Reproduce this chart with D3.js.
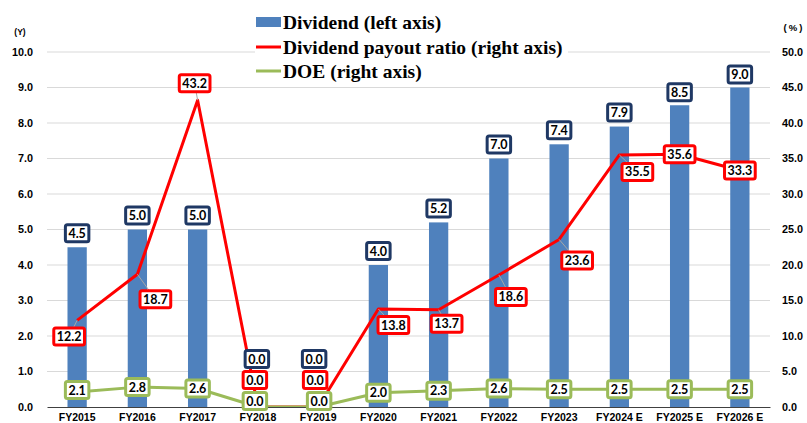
<!DOCTYPE html>
<html><head><meta charset="utf-8">
<script src="https://cdn.jsdelivr.net/npm/d3@7"></script>
<style>
html,body{margin:0;padding:0;background:#fff;}
svg{display:block;}
</style></head>
<body>
<svg id="c" width="807" height="423"></svg>
<script>
// ---- data ----
const categories = ["FY2015","FY2016","FY2017","FY2018","FY2019","FY2020","FY2021","FY2022","FY2023","FY2024 E","FY2025 E","FY2026 E"];
const dividend = [4.5,5.0,5.0,0.0,0.0,4.0,5.2,7.0,7.4,7.9,8.5,9.0];
const payoutRatio = [12.2,18.7,43.2,0.0,0.0,13.8,13.7,18.6,23.6,35.5,35.6,33.3];
const doe = [2.1,2.8,2.6,0.0,0.0,2.0,2.3,2.6,2.5,2.5,2.5,2.5];
const leftTicks = [0,1,2,3,4,5,6,7,8,9,10];
const rightTicks = [0,5,10,15,20,25,30,35,40,45,50];
const legendLabels = ["Dividend (left axis)","Dividend payout ratio (right axis)","DOE (right axis)"];

// ---- layout (label placement offsets, px) ----
const divLabelOffset = [[0,-14],[0,-14],[0,-14],[-1,-48],[-4,-48],[0,-14],[0,-14],[0,-14],[0,-14],[0,-14],[0,-13],[0,-13]];
const ratioLabelOffset = [[-8,16],[18,25],[-3,-17],[-3,-27],[-3,-27],[15,16],[8,14],[12,22],[18,21],[18,17],[0,0],[0,0]];
const doeLabelOffset = [[0,-2],[0,0],[0,0],[-3,-6],[1,-6],[0,0],[0,0],[0,0],[0,0],[0,0],[0,0],[0,0]];

const C = {bar:"#4f81bd", red:"#ff0000", green:"#9bbb59", navy:"#1f3864", grid:"#d9d9d9"};
const svg = d3.select("#c");
const L = 47, R = 770, T = 52, B = 407;

const x = d3.scaleBand().domain(categories).range([L,R]).paddingInner(0.68).paddingOuter(0.34);
const xc = d => x(d) + x.bandwidth()/2;
const yL = d3.scaleLinear().domain([0,10]).range([B,T]);
const yR = d3.scaleLinear().domain([0,50]).range([B,T]);

// gridlines
svg.append("g").selectAll("line").data(leftTicks.slice(1)).join("line")
  .attr("x1",L).attr("x2",R).attr("y1",d=>yL(d)).attr("y2",d=>yL(d))
  .attr("stroke",C.grid).attr("stroke-width",1);

// left axis
const axL = svg.append("g").attr("transform",`translate(${L},0)`)
  .call(d3.axisLeft(yL).tickValues(leftTicks).tickFormat(d3.format(".1f")).tickSize(0).tickPadding(14));
axL.select(".domain").remove();
axL.selectAll("text").attr("font-family","'Liberation Sans',Arial,sans-serif").attr("font-weight","bold").attr("font-size","10.8px").attr("fill","#000");

// right axis
const axR = svg.append("g").attr("transform",`translate(${R},0)`)
  .call(d3.axisRight(yR).tickValues(rightTicks).tickFormat(d3.format(".1f")).tickSize(0).tickPadding(12));
axR.select(".domain").remove();
axR.selectAll("text").attr("font-family","'Liberation Sans',Arial,sans-serif").attr("font-weight","bold").attr("font-size","10.8px").attr("fill","#000");

// unit labels
svg.append("text").attr("x",20).attr("y",35).attr("text-anchor","middle")
  .attr("font-family","'Liberation Sans',Arial,sans-serif").attr("font-weight","bold").attr("font-size","8.5px").text("(Y)");
svg.append("text").attr("x",794).attr("y",31).attr("text-anchor","middle").attr("letter-spacing","2px")
  .attr("font-family","'Liberation Sans',Arial,sans-serif").attr("font-weight","bold").attr("font-size","9.5px").text("(%)");

// bars
svg.append("g").selectAll("rect").data(dividend).join("rect")
  .attr("x",(d,i)=>x(categories[i])).attr("width",x.bandwidth())
  .attr("y",d=>yL(d)).attr("height",d=>B-yL(d)).attr("fill",C.bar);

// x axis
const axB = svg.append("g").attr("transform",`translate(0,${B})`)
  .call(d3.axisBottom(x).tickSize(0).tickPadding(0));
axB.select(".domain").attr("stroke","#404040").attr("stroke-width",1);
axB.selectAll("text").attr("font-family","'Liberation Sans',Arial,sans-serif").attr("font-weight","bold").attr("font-size","10.5px").attr("fill","#000").attr("dy",null).attr("y",13.5);

// clip for lines
svg.append("clipPath").attr("id","plotclip").append("rect").attr("x",L).attr("y",0).attr("width",R-L).attr("height",B);

const line = d3.line().x((d,i)=>xc(categories[i])).y(d=>yR(d));
const lg = svg.append("g").attr("clip-path","url(#plotclip)");
lg.append("path").datum(payoutRatio).attr("d",line).attr("fill","none").attr("stroke",C.red).attr("stroke-width",3).attr("stroke-linejoin","round");
lg.append("path").datum(doe).attr("d",line).attr("fill","none").attr("stroke",C.green).attr("stroke-width",3).attr("stroke-linejoin","round");

// leader lines for ratio labels
const leaderIdx = payoutRatio.map((d,i)=>i).filter(i=>payoutRatio[i]>0 && Math.hypot(ratioLabelOffset[i][0],ratioLabelOffset[i][1])>12);
svg.append("g").selectAll("line").data(leaderIdx).join("line")
  .attr("x1",i=>xc(categories[i])).attr("y1",i=>yR(payoutRatio[i]))
  .attr("x2",i=>xc(categories[i])+ratioLabelOffset[i][0]).attr("y2",i=>yR(payoutRatio[i])+ratioLabelOffset[i][1])
  .attr("stroke","#a6a6a6").attr("stroke-width",1);

// data label helper
function labels(vals, yScale, offs, color){
  const g = svg.append("g");
  vals.forEach((v,i)=>{
    const cx = xc(categories[i]) + offs[i][0];
    const cy = yScale(v) + offs[i][1];
    const gg = g.append("g").attr("transform",`translate(${cx},${cy})`);
    const r = gg.append("rect");
    const t = gg.append("text").attr("text-anchor","middle").attr("dy","0.36em")
      .attr("font-family","Lato,'Open Sans',sans-serif").attr("font-weight","bold").attr("font-size","12.5px")
      .attr("fill","#000").text(d3.format(".1f")(v));
    const w = t.node().getBBox().width + 6;
    const h = 17;
    r.attr("x",-w/2).attr("y",-h/2).attr("width",w).attr("height",h).attr("rx",2)
      .attr("fill","#fff").attr("stroke",color).attr("stroke-width",3);
  });
}
labels(dividend, yL, divLabelOffset, C.navy);
labels(payoutRatio, yR, ratioLabelOffset, C.red);
labels(doe, yR, doeLabelOffset, C.green);

// legend
const leg = svg.append("g");
leg.append("rect").attr("x",255).attr("y",0).attr("width",313).attr("height",84).attr("fill","#fff");
const rowsY = [22,47,71];
leg.append("rect").attr("x",256).attr("y",rowsY[0]-5).attr("width",25).attr("height",10).attr("fill",C.bar);
leg.append("line").attr("x1",256).attr("x2",281).attr("y1",rowsY[1]).attr("y2",rowsY[1]).attr("stroke",C.red).attr("stroke-width",3);
leg.append("line").attr("x1",256).attr("x2",281).attr("y1",rowsY[2]).attr("y2",rowsY[2]).attr("stroke",C.green).attr("stroke-width",3);
leg.selectAll("text.l").data(legendLabels).join("text").attr("class","l")
  .attr("x",283).attr("y",(d,i)=>rowsY[i]+6.5)
  .attr("font-family","'Liberation Serif','Times New Roman',serif").attr("font-weight","bold").attr("font-size","19.5px")
  .attr("fill","#000").text(d=>d);
</script>
</body></html>
